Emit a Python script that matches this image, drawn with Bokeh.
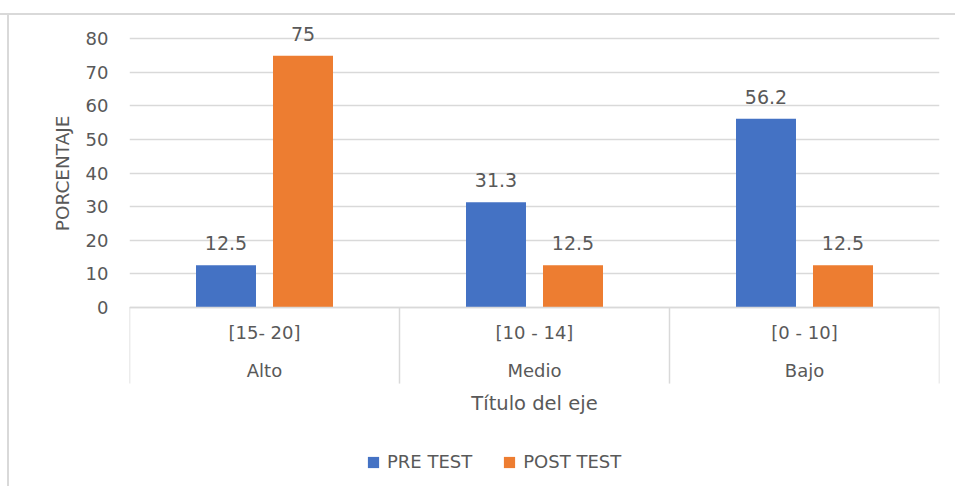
from bokeh.plotting import figure
from bokeh.models import (ColumnDataSource, FactorRange, Range1d, FixedTicker,
                          CategoricalAxis, LabelSet, Legend, LegendItem, Whisker, Title)
from bokeh.core.properties import value
from bokeh.transform import dodge
from bokeh.embed import file_html
from bokeh.resources import INLINE

# ---- data ----
ranges = ["[15- 20]", "[10 - 14]", "[0 - 10]"]
levels = ["Alto", "Medio", "Bajo"]
pre_test = [12.5, 31.3, 56.2]
post_test = [75, 12.5, 12.5]
y_ticks = [0, 10, 20, 30, 40, 50, 60, 70, 80]
series_names = ["PRE TEST", "POST TEST"]
y_title = "PORCENTAJE"
x_title = "Título del eje"

# ---- style ----
FONT = "DejaVu Sans"
TXT = "#595959"
GRID = "#d9d9d9"
BLUE = "#4472C4"
ORANGE = "#ED7D31"
OFF = 0.1426
BW = 0.2222
Y_TOP = 86.1
Y_BOTTOM = -53.5
SEP_DEPTH = -22.8

src = ColumnDataSource(dict(
    cat=ranges, pre=pre_test, post=post_test,
    pre_lbl=[f"{v:g}" for v in pre_test],
    post_lbl=[f"{v:g}" for v in post_test],
))

p = figure(width=955, height=486, x_range=FactorRange(*ranges),
           y_range=Range1d(Y_BOTTOM, Y_TOP), output_backend="svg", toolbar_location=None,
           min_border_left=129, min_border_right=16, min_border_top=18,
           min_border_bottom=0)
p.outline_line_color = None
p.border_fill_color = None
p.background_fill_color = "white"
p.styles = {"background": "linear-gradient(#d9d9d9,#d9d9d9) 0 13px/100% 2px no-repeat, "
                          "linear-gradient(#d9d9d9,#d9d9d9) 7px 13px/2px 100% no-repeat"}

r_pre = p.vbar(x=dodge("cat", -OFF, range=p.x_range), top="pre", width=BW,
               source=src, fill_color=BLUE, line_color=None)
r_post = p.vbar(x=dodge("cat", OFF, range=p.x_range), top="post", width=BW,
                source=src, fill_color=ORANGE, line_color=None)

for xoff, col, lbl in [(-OFF, "pre", "pre_lbl"), (OFF, "post", "post_lbl")]:
    p.add_layout(LabelSet(x=dodge("cat", xoff, range=p.x_range), y=col, text=lbl,
                          source=src, text_align="center", text_baseline="alphabetic",
                          y_offset=15, text_font=value(FONT), text_font_size="19px",
                          text_color=TXT))

# separators of category axis
n_sep = len(ranges) + 1
sep_src = ColumnDataSource(dict(x=list(range(n_sep)), top=[0] * n_sep,
                                bottom=[SEP_DEPTH] * n_sep))
p.add_layout(Whisker(base="x", upper="top", lower="bottom", dimension="height",
                     source=sep_src, line_color=GRID, line_width=1.5,
                     upper_head=None, lower_head=None))

# grid
p.xgrid.visible = False
p.ygrid.ticker = FixedTicker(ticks=y_ticks)
p.ygrid.grid_line_color = GRID
p.ygrid.grid_line_width = 1.5

# y axis
ya = p.yaxis[0]
ya.ticker = FixedTicker(ticks=y_ticks)
ya.axis_line_color = None
ya.major_tick_line_color = None
ya.minor_tick_line_color = None
ya.major_tick_out = 0
ya.minor_tick_out = 0
ya.major_label_standoff = 21
ya.major_label_text_font = FONT
ya.major_label_text_font_size = "18px"
ya.major_label_text_color = TXT

p.add_layout(Title(text=y_title, align="right", offset=97, standoff=20,
                   text_font=FONT, text_font_size="18.5px", text_font_style="normal",
                   text_color=TXT), "left")

# x axis 1 (ranges)
xa = p.xaxis[0]
xa.fixed_location = 0
xa.axis_line_color = GRID
xa.axis_line_width = 1.5
xa.major_tick_line_color = None
xa.major_tick_out = 0
xa.major_label_standoff = 15
xa.major_label_text_font = FONT
xa.major_label_text_font_size = "18px"
xa.major_label_text_color = TXT

# x axis 2 (levels)
p.extra_x_ranges = {"lvl": FactorRange(*levels)}
xa2 = CategoricalAxis(x_range_name="lvl", fixed_location=0)
xa2.axis_line_color = None
xa2.major_tick_line_color = None
xa2.major_tick_out = 0
xa2.major_label_standoff = 53
xa2.major_label_text_font = FONT
xa2.major_label_text_font_size = "18px"
xa2.major_label_text_color = TXT
xa2.axis_label = x_title
xa2.axis_label_standoff = 7
xa2.axis_label_text_font = FONT
xa2.axis_label_text_font_size = "19.5px"
xa2.axis_label_text_font_style = "normal"
xa2.axis_label_text_color = TXT
p.add_layout(xa2, "below")

legend = Legend(items=[LegendItem(label=series_names[0], renderers=[r_pre]),
                       LegendItem(label=series_names[1], renderers=[r_post])],
                location=(237, 14), orientation="horizontal",
                glyph_width=14, glyph_height=14, label_standoff=7, spacing=30,
                padding=0, margin=0, border_line_color=None,
                background_fill_alpha=0, label_text_font=FONT,
                label_text_font_size="18px", label_text_color=TXT)
p.add_layout(legend)

open("out.html", "w").write(file_html(p, INLINE))
